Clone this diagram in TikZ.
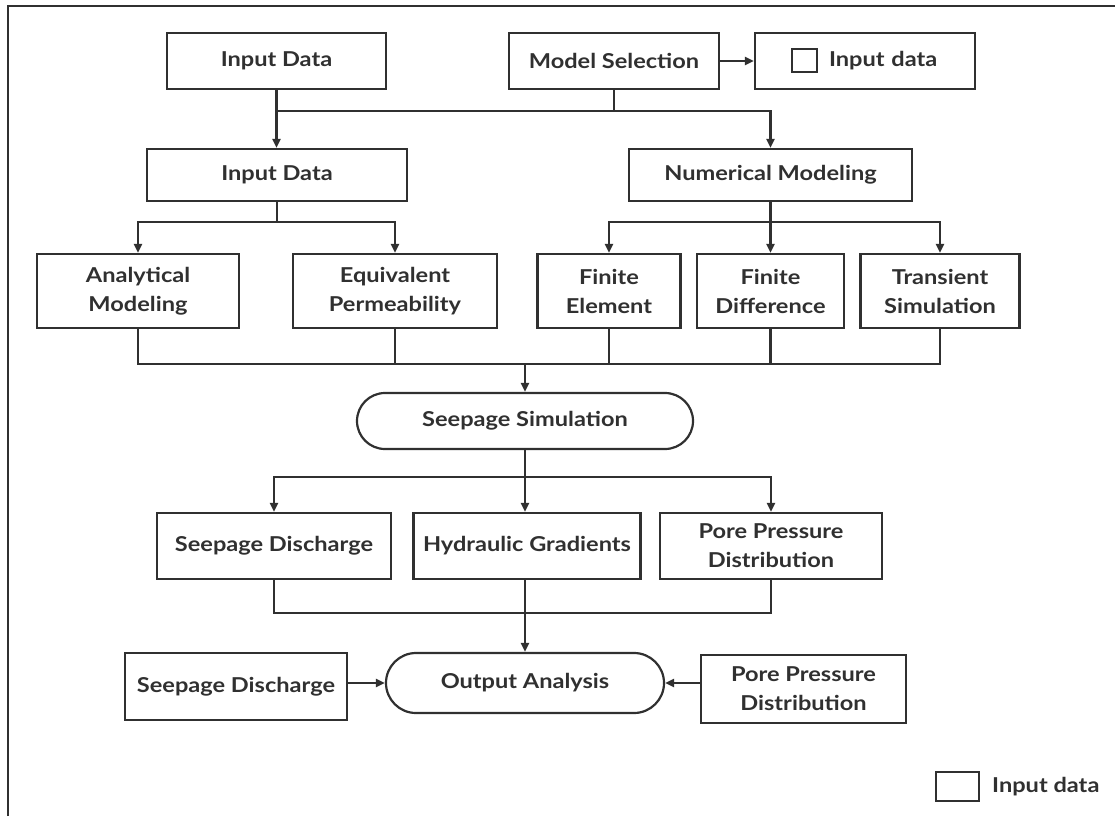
\documentclass[tikz,border=0pt]{standalone}
\usepackage{fontspec}
\setmainfont{Lato}[FakeStretch=1.15]
\usetikzlibrary{arrows.meta,calc}
\definecolor{ink}{HTML}{303030}
\tikzset{
  bx/.style={draw=ink, line width=2.2pt, inner sep=0pt, align=center,
    font=\fontsize{20.5}{29}\selectfont\bfseries, text=ink},
  rbx/.style={bx, rounded corners=28pt},
  conn/.style={draw=ink, line width=2.2pt},
  arr/.style={conn, -{Triangle[length=9pt,width=8pt]}},
}
\begin{document}
\begin{tikzpicture}[x=1pt,y=-1pt]
\useasboundingbox (0,0) rectangle (1115,816);
% frame
\draw[ink, line width=2.4pt] (8,816) -- (8,6) -- (1115,6);

% row 1
\node[bx, minimum width=219pt, minimum height=56pt] (in1) at (276.5,61) {Input Data};
\node[bx, minimum width=210pt, minimum height=56pt] (ms) at (614,61) {Model Selection};
\node[bx, minimum width=220pt, minimum height=56pt, text width=200pt, align=left] (ind) at (865,61) {\hspace{64pt}Input data};
\draw[ink, line width=2pt] (792,49) rectangle (817,72);

% row 2
\node[bx, minimum width=260pt, minimum height=52pt] (in2) at (277,175) {Input Data};
\node[bx, minimum width=283pt, minimum height=52pt] (num) at (770.5,175) {Numerical Modeling};

% row 3
\node[bx, minimum width=202pt, minimum height=74pt] (ana) at (138,291) {Analytical\\Modeling};
\node[bx, minimum width=204pt, minimum height=74pt] (eqp) at (395,291) {Equivalent\\Permeability};
\node[bx, minimum width=143pt, minimum height=74pt] (fe) at (609,291) {Finite\\Element};
\node[bx, minimum width=147pt, minimum height=74pt] (fd) at (770.5,291) {Finite\\Difference};
\node[bx, minimum width=159pt, minimum height=74pt] (ts) at (940,291) {Transient\\Simulation};

% row 4
\node[rbx, minimum width=336pt, minimum height=56pt] (seep) at (525,421) {Seepage Simulation};

% row 5
\node[bx, minimum width=234pt, minimum height=66pt] (sd) at (274,546) {Seepage Discharge};
\node[bx, minimum width=227pt, minimum height=66pt] (hg) at (527,546) {Hydraulic Gradients};
\node[bx, minimum width=222pt, minimum height=66pt] (pp) at (771,546) {Pore Pressure\\Distribution};

% row 6
\node[bx, rounded corners=30pt, minimum width=278pt, minimum height=60pt] (oa) at (525,683) {Output Analysis};
\node[bx, minimum width=222pt, minimum height=67pt] (sd2) at (236,686.5) {Seepage Discharge};
\node[bx, minimum width=205pt, minimum height=68pt] (pp2) at (803.5,689) {Pore Pressure\\Distribution};

% legend
\draw[ink, line width=2pt] (936,772) rectangle (979,801);
\node[anchor=west, inner sep=0pt, font=\fontsize{20.5}{29}\selectfont\bfseries, text=ink] (leg) at (992,787) {Input data};

% connectors
\coordinate (h1) at (0,111);
\coordinate (h2) at (0,222);
\coordinate (h3) at (0,364);
\coordinate (h4) at (0,477);
\coordinate (h5) at (0,613);

\draw[arr] (ms.east) -- (ind.west);
\draw[arr] (in1.south) -- (in1.south |- in2.north);
\draw[conn] (ms.south) -- (ms.south |- h1);
\draw[arr] (in1.south |- h1) -| (num.north);

\draw[conn] (in2.south) -- (in2.south |- h2);
\draw[arr] (in2.south |- h2) -| (ana.north);
\draw[arr] (in2.south |- h2) -| (eqp.north);
\draw[arr] (num.south) -- (num.south |- fd.north);
\draw[arr] (num.south |- h2) -| (fe.north);
\draw[arr] (num.south |- h2) -| (ts.north);

\draw[conn] (ana.south) |- (ts.south |- h3) -- (ts.south);
\draw[conn] (eqp.south) -- (eqp.south |- h3);
\draw[conn] (fe.south) -- (fe.south |- h3);
\draw[conn] (fd.south) -- (fd.south |- h3);
\draw[arr] (seep.north |- h3) -- (seep.north);

\draw[conn] (seep.south) -- (seep.south |- h4);
\draw[arr] (seep.south |- h4) -| (sd.north);
\draw[arr] (seep.south |- h4) -| (pp.north);
\draw[arr] (seep.south) -- (seep.south |- hg.north);

\draw[conn] (sd.south) |- (pp.south |- h5) -- (pp.south);
\draw[conn] (oa.north |- hg.south) -- (oa.north |- h5);
\draw[arr] (oa.north |- h5) -- (oa.north);

\draw[arr] (sd2.east |- oa.west) -- (oa.west);
\draw[arr] (pp2.west |- oa.east) -- (oa.east);
\end{tikzpicture}
\end{document}
